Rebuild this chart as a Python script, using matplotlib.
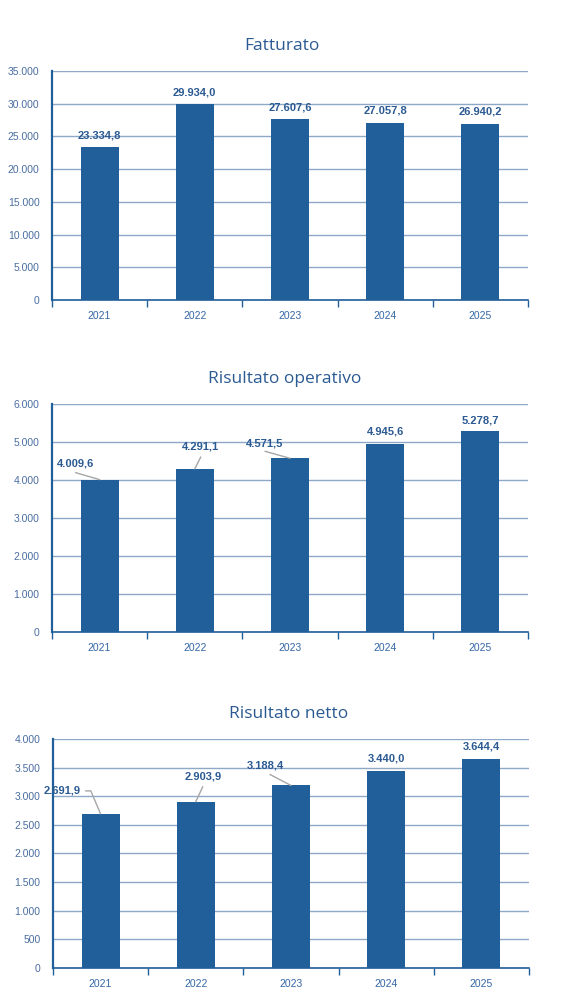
import numpy as np
import matplotlib
matplotlib.use('Agg')
import matplotlib.pyplot as plt

years = ['2021', '2022', '2023', '2024', '2025']
fatturato = [23334.8, 29934.0, 27607.6, 27057.8, 26940.2]
ris_operativo = [4009.6, 4291.1, 4571.5, 4945.6, 5278.7]
ris_netto = [2691.9, 2903.9, 3188.4, 3440.0, 3644.4]

BAR = '#215F9A'
GRID = '#8EA9C8'
SPINE = '#215F9A'
TICKC = '#4A6DA0'
XTICKC = '#3467A6'
LABC = '#2B5A92'
LEADER = '#A6A6A6'


def fmt_it(v, dec=1):
    s = f"{v:,.{dec}f}"
    return s.replace(',', 'X').replace('.', ',').replace('X', '.')


def draw(ax, title, tx, values, ymax, ystep, offsets, leaders, elbow=None):
    x = np.arange(len(years))
    ax.bar(x, values, width=0.4, color=BAR, zorder=3)
    ax.set_xlim(-0.5, len(years) - 0.5)
    ax.set_ylim(0, ymax)
    ax.set_yticks(np.arange(0, ymax + 1, ystep))
    ax.set_yticklabels([fmt_it(t, 0) for t in np.arange(0, ymax + 1, ystep)],
                       family='Liberation Sans', fontsize=7.5, color=TICKC)
    ax.tick_params(axis='y', length=0, pad=9)
    ax.set_xticks(x)
    ax.set_xticklabels(years, family='Liberation Sans', fontsize=7.5, color=XTICKC)
    ax.tick_params(axis='x', which='major', length=0, pad=8)
    ax.set_xticks(np.arange(-0.5, len(years), 1), minor=True)
    ax.tick_params(axis='x', which='minor', length=5, width=1, color=SPINE, direction='out')
    ax.grid(axis='y', color=GRID, lw=1, zorder=0)
    for s in ['top', 'right']:
        ax.spines[s].set_visible(False)
    ax.spines['left'].set_color(SPINE)
    ax.spines['left'].set_linewidth(1.6)
    ax.spines['bottom'].set_color(SPINE)
    ax.spines['bottom'].set_linewidth(1.2)
    ax.set_title(title, family='Open Sans', fontsize=12.5, color='#2B5A92', pad=15, x=tx)

    for i, v in enumerate(values):
        dx, dy = offsets[i]
        ax.annotate(fmt_it(v), (i, v), xytext=(dx, dy), textcoords='offset pixels',
                    ha='center', va='center', fontsize=8, fontweight='bold',
                    family='Liberation Sans', color=LABC, zorder=5)
        if leaders[i] is not None:
            cs = 'angle,angleA=0,angleB=113,rad=0' if elbow == i else 'arc3'
            ax.annotate('', (i, v), xytext=leaders[i], textcoords='offset pixels',
                        arrowprops=dict(arrowstyle='-', color=LEADER, lw=1,
                                        shrinkA=0, shrinkB=0, connectionstyle=cs),
                        zorder=4)


fig = plt.figure(figsize=(5.79, 10.06), dpi=100)

ax1 = fig.add_axes([0.0898, 0.7018, 0.822, 0.2276])
draw(ax1, 'Fatturato', 0.483, fatturato, 35000, 5000,
     [(0, 12)] * 5, [None] * 5)

ax2 = fig.add_axes([0.0898, 0.3718, 0.822, 0.2266])
draw(ax2, 'Risultato operativo', 0.489, ris_operativo, 6000, 1000,
     [(-24, 16), (6, 22), (-25, 15), (0, 13), (0, 11)],
     [(-24, 7), (6, 12), (-25, 7), None, None])

ax3 = fig.add_axes([0.0915, 0.0378, 0.822, 0.2276])
draw(ax3, 'Risultato netto', 0.496, ris_netto, 4000, 500,
     [(-38, 23), (7, 25), (-26, 20), (0, 13), (0, 13)],
     [(-15, 23), (7, 15), (-21, 11), None, None], elbow=0)

fig.savefig('out.png', dpi=100, facecolor='white')
